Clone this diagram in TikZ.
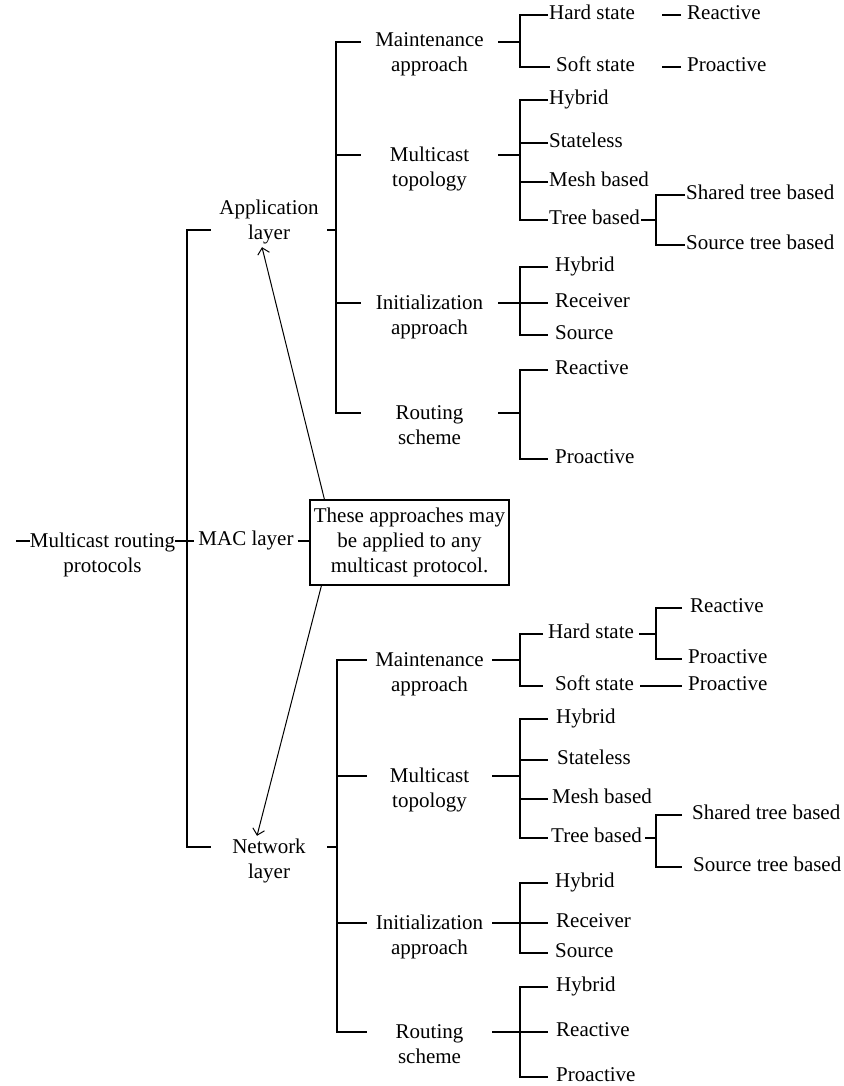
\documentclass[tikz,border=0pt]{standalone}
\usepackage{fontspec}
\setmainfont{Liberation Serif}
\usetikzlibrary{arrows.meta}
\newcommand\twoline[2]{\strut#1\\\strut#2}
\begin{document}
% the labels' size is also the size used for the "mid" anchors (0.5ex)
\fontsize{21}{25}\selectfont
\begin{tikzpicture}[x=1pt,y=-1pt,
  tree/.style={line width=1.1pt},
  txt/.style={font=\fontsize{21}{25}\selectfont, inner sep=0pt},
  leaf/.style={txt, anchor=mid west, inner xsep=#1},
  leaf/.default=3pt,
  cat/.style={txt, align=center},
  arr/.style={line width=1pt, -{Straight Barb[length=6pt,width=12pt]}},
]
\useasboundingbox (0,0) rectangle (843,1086);

% ---------- root, MAC layer and note ----------
\node[cat] (mrp) at (102.5,555) {\twoline{Multicast routing}{protocols}};
\node[cat, minimum width=116pt] (app) at (269,222) {\twoline{Application}{layer}};
\node[cat, minimum width=116pt] (net) at (269,861) {\twoline{Network}{layer}};
\node[txt, anchor=mid, inner xsep=4pt] (mac) at (246,541) {MAC layer};
\node[txt, draw, line width=1.1pt, minimum width=199pt, minimum height=85pt, align=center]
  (box) at (409.5,542.5) {These approaches may\\be applied to any\\multicast protocol.};

\coordinate (mTop) at (187,230);
\coordinate (mBot) at (187,847);
\draw[tree] (mTop -| app.west) -- (mTop) -- (mBot) -- (mBot -| net.west);
\draw[tree] (mac.mid west -| mrp.east) -- (mac.mid west);
\draw[tree] (mac.mid west -| mrp.west) -- ++(-14,0);
\draw[tree] (mac.mid east) -- (mac.mid east -| box.west);

\draw[arr] ([xshift=15pt]box.north west) -- ([xshift=-7pt]app.south);
\draw[arr] ([xshift=12pt]box.south west) -- ([xshift=-12pt]net.north);

% ---------- application layer branch ----------
\coordinate (appRow) at (336,230);
\coordinate (aM) at (336,42);
\coordinate (aT) at (336,155);
\coordinate (aI) at (336,303);
\coordinate (aR) at (336,413);
\node[cat, minimum width=137pt] (aMn) at (429.5,54)  {\twoline{Maintenance}{approach}};
\node[cat, minimum width=137pt] (aTn) at (429.5,169) {\twoline{Multicast}{topology}};
\node[cat, minimum width=137pt] (aIn) at (429.5,317) {\twoline{Initialization}{approach}};
\node[cat, minimum width=137pt] (aRn) at (429.5,427) {\twoline{Routing}{scheme}};
\draw[tree] (appRow -| app.east) -- (appRow);
\draw[tree] (aM -| aMn.west) -- (aM) -- (aR) -- (aR -| aRn.west);
\draw[tree] (aT) -- (aT -| aTn.west);
\draw[tree] (aI) -- (aI -| aIn.west);

% maintenance approach
\coordinate (aMj) at (520,42);
\node[leaf=1pt] (aMh) at (548,15) {Hard state};
\node[leaf=6pt] (aMs) at (550,67) {Soft state};
\node[leaf=6pt] (aMhr) at (681,15) {Reactive};
\node[leaf=6pt] (aMsp) at (681,67) {Proactive};
\draw[tree] (aM -| aMn.east) -- (aMj);
\draw[tree] (aMh.mid west) -| (aMj) |- (aMs.mid west);
\draw[tree] (aMhr.mid west) -- ++(-19,0);
\draw[tree] (aMsp.mid west) -- ++(-19,0);

% multicast topology
\coordinate (aTj) at (520,155);
\node[leaf=1pt] (aTh) at (548,100) {Hybrid};
\node[leaf=1pt] (aTs) at (548,143) {Stateless};
\node[leaf=1pt] (aTm) at (548,182) {Mesh based};
\node[leaf=1pt] (aTt) at (548,220) {Tree based};
\draw[tree] (aT -| aTn.east) -- (aTj);
\draw[tree] (aTh.mid west) -| (aTj) |- (aTt.mid west);
\draw[tree] (aTs.mid west) -- (aTs.mid west -| aTj);
\draw[tree] (aTm.mid west) -- (aTm.mid west -| aTj);
\coordinate (aTtj) at (656,220);
\node[leaf=1pt] (aTsh) at (685,195) {Shared tree based};
\node[leaf=1pt] (aTso) at (685,245) {Source tree based};
\draw[tree] (aTt.mid east) -- (aTtj);
\draw[tree] (aTsh.mid west) -| (aTtj) |- (aTso.mid west);

% initialization approach
\coordinate (aIj) at (520,303);
\node[leaf=7pt] (aIh) at (548,267) {Hybrid};
\node[leaf=7pt] (aIr) at (548,303) {Receiver};
\node[leaf=7pt] (aIs) at (548,335) {Source};
\draw[tree] (aI -| aIn.east) -- (aIr.mid west);
\draw[tree] (aIh.mid west) -| (aIj) |- (aIs.mid west);

% routing scheme
\coordinate (aRj) at (520,413);
\node[leaf=7pt] (aRre) at (548,370) {Reactive};
\node[leaf=7pt] (aRpr) at (548,459) {Proactive};
\draw[tree] (aR -| aRn.east) -- (aRj);
\draw[tree] (aRre.mid west) -| (aRj) |- (aRpr.mid west);

% ---------- network layer branch ----------
\coordinate (netRow) at (337,847);
\coordinate (nM) at (337,660);
\coordinate (nT) at (337,776);
\coordinate (nI) at (337,923);
\coordinate (nR) at (337,1032);
\node[cat, minimum width=125pt] (nMn) at (429.5,674)  {\twoline{Maintenance}{approach}};
\node[cat, minimum width=125pt] (nTn) at (429.5,790)  {\twoline{Multicast}{topology}};
\node[cat, minimum width=125pt] (nIn) at (429.5,937)  {\twoline{Initialization}{approach}};
\node[cat, minimum width=125pt] (nRn) at (429.5,1046) {\twoline{Routing}{scheme}};
\draw[tree] (netRow -| net.east) -- (netRow);
\draw[tree] (nM -| nMn.west) -- (nM) -- (nR) -- (nR -| nRn.west);
\draw[tree] (nT) -- (nT -| nTn.west);
\draw[tree] (nI) -- (nI -| nIn.west);

% maintenance approach
\coordinate (nMj) at (520,660);
\node[leaf=5pt] (nMh) at (543,634) {Hard state};
\node[leaf=12pt] (nMs) at (543,686) {Soft state};
\draw[tree] (nM -| nMn.east) -- (nMj);
\draw[tree] (nMh.mid west) -| (nMj) |- (nMs.mid west);
\coordinate (nMhj) at (656,634);
\node[leaf=8pt] (nMhr) at (682,608) {Reactive};
\node[leaf=6pt] (nMhp) at (682,659) {Proactive};
\draw[tree] (nMh.mid east) -- (nMhj);
\draw[tree] (nMhr.mid west) -| (nMhj) |- (nMhp.mid west);
\node[leaf=6pt] (nMsp) at (682,686) {Proactive};
\draw[tree] ([xshift=-6pt]nMs.mid east) -- (nMsp.mid west);

% multicast topology
\coordinate (nTj) at (520,776);
\node[leaf=8pt] (nTh) at (548,719) {Hybrid};
\node[leaf=9pt] (nTs) at (548,760) {Stateless};
\node[leaf=4pt] (nTm) at (548,799) {Mesh based};
\node[leaf=3pt] (nTt) at (548,838) {Tree based};
\draw[tree] (nT -| nTn.east) -- (nTj);
\draw[tree] (nTh.mid west) -| (nTj) |- (nTt.mid west);
\draw[tree] (nTs.mid west) -- (nTs.mid west -| nTj);
\draw[tree] (nTm.mid west) -- (nTm.mid west -| nTj);
\coordinate (nTtj) at (656,838);
\node[leaf=10pt] (nTsh) at (682,815) {Shared tree based};
\node[leaf=11pt] (nTso) at (682,867) {Source tree based};
\draw[tree] (nTt.mid east) -- (nTtj);
\draw[tree] (nTsh.mid west) -| (nTtj) |- (nTso.mid west);

% initialization approach
\coordinate (nIj) at (520,923);
\node[leaf=7pt] (nIh) at (548,883) {Hybrid};
\node[leaf=8pt] (nIr) at (548,923) {Receiver};
\node[leaf=7pt] (nIs) at (548,953) {Source};
\draw[tree] (nI -| nIn.east) -- (nIr.mid west);
\draw[tree] (nIh.mid west) -| (nIj) |- (nIs.mid west);

% routing scheme
\coordinate (nRj) at (520,1032);
\node[leaf=8pt] (nRh) at (548,987) {Hybrid};
\node[leaf=8pt] (nRre) at (548,1032) {Reactive};
\node[leaf=8pt] (nRp) at (548,1077) {Proactive};
\draw[tree] (nR -| nRn.east) -- (nRre.mid west);
\draw[tree] (nRh.mid west) -| (nRj) |- (nRp.mid west);
\end{tikzpicture}
\end{document}
